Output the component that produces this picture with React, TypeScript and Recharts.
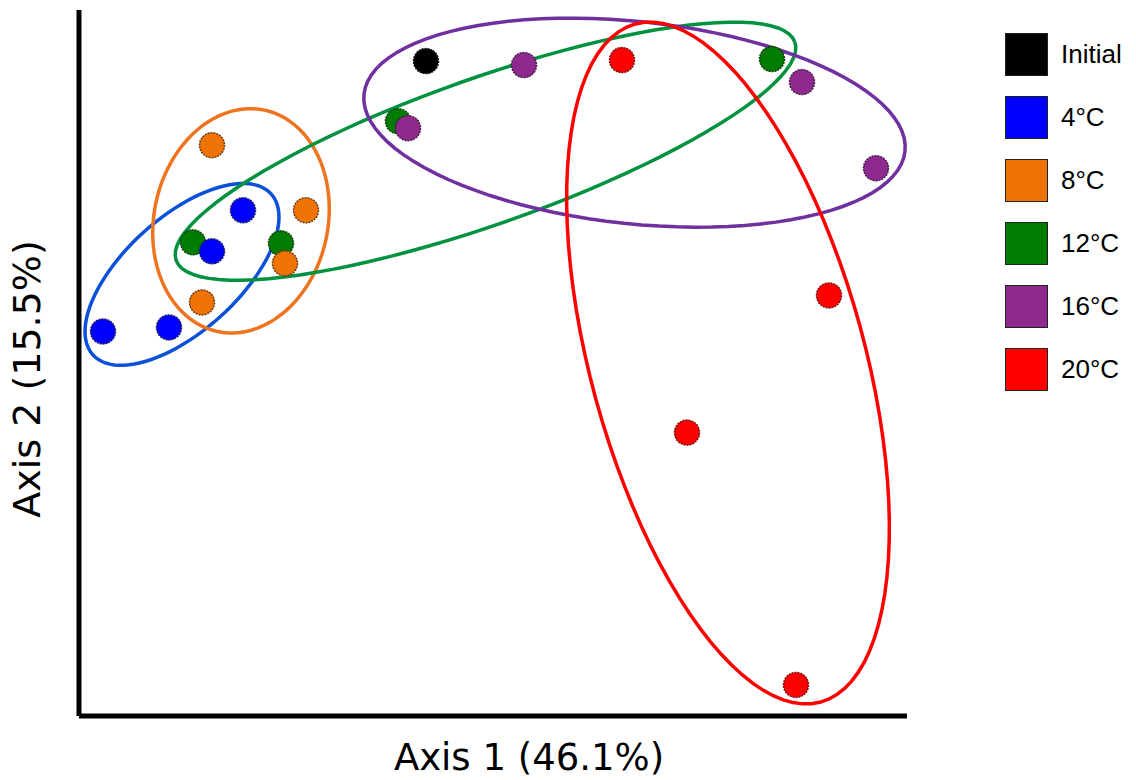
import { ScatterChart, Scatter, XAxis, YAxis, Label } from 'recharts'

// ordination scores, units chosen so one unit ~ one pixel on both axes
const groups = ['Initial', '4°C', '8°C', '12°C', '16°C', '20°C']
const fillColors = ['#000000', '#0000ff', '#f07306', '#007c00', '#8e2a8e', '#ff0000']
const edgeColors = ['#111111', '#1a1a60', '#6a3a10', '#0f3f0f', '#4a1a4a', '#7a1010']
const ringColors = ['#000000', '#0a50d8', '#ee7420', '#00923f', '#7030a0', '#ff0000']

const initialX = [347]
const initialY = [654]
const c4X = [164, 133, 24, 90]
const c4Y = [505, 464, 384, 388]
const c8X = [133, 227, 206, 123]
const c8Y = [570, 505, 452, 413]
const c12X = [114, 202, 319, 693]
const c12Y = [473, 472, 594, 656]
const c16X = [445, 329, 723, 797]
const c16Y = [650, 587, 633, 547]
const c20X = [543, 750, 608, 717]
const c20Y = [655, 420, 283, 31]

// group ellipses (4, 8, 12, 16, 20 °C): centre, semi-axes, tilt in degrees
const ellipseGroups = ['4°C', '8°C', '12°C', '16°C', '20°C']
const ellipseCx = [103, 162, 406.5, 555.5, 649]
const ellipseCy = [441, 494.5, 564, 592.5, 352.5]
const ellipseA = [120, 113, 328, 272, 351]
const ellipseB = [57, 87, 73, 101, 137]
const ellipseTilt = [42, 78, 19.4, -6, 105.3]

const xDomain = [0, 828]
const yDomain = [0, 705]

const zip = (xs: number[], ys: number[]) => xs.map((x, i) => ({ x, y: ys[i] }))

const pointSets = [
  zip(initialX, initialY),
  zip(c4X, c4Y),
  zip(c8X, c8Y),
  zip(c12X, c12Y),
  zip(c16X, c16Y),
  zip(c20X, c20Y),
]

function ellipseOutline(i: number) {
  const th = (ellipseTilt[i] * Math.PI) / 180
  const pts = []
  for (let k = 0; k <= 96; k++) {
    const t = (k / 96) * Math.PI * 2
    const u = ellipseA[i] * Math.cos(t)
    const v = ellipseB[i] * Math.sin(t)
    pts.push({
      x: ellipseCx[i] + u * Math.cos(th) - v * Math.sin(th),
      y: ellipseCy[i] + u * Math.sin(th) + v * Math.cos(th),
    })
  }
  return pts
}

// green drawn first so blue/orange/purple dots sit on top of it
const drawOrder = [0, 3, 1, 2, 4, 5]

const Nothing = () => <g />

export default function App() {
  return (
    <div style={{ position: 'absolute', left: 0, top: 0, width: 1136, height: 780, background: '#fff' }}>
      <ScatterChart width={1136} height={780} margin={{ top: 10, right: 229, bottom: 0, left: 0 }}>
        <XAxis
          type="number"
          dataKey="x"
          domain={xDomain}
          allowDataOverflow
          height={64}
          tick={false}
          tickLine={false}
          axisLine={{ stroke: '#000', strokeWidth: 5 }}
        >
          <Label
            value="Axis 1 (46.1%)"
            position="insideBottom"
            offset={10}
            dx={36}
            fontFamily="DejaVu Sans"
            fontSize={37}
            fill="#000"
          />
        </XAxis>
        <YAxis
          type="number"
          dataKey="y"
          domain={yDomain}
          allowDataOverflow
          width={79}
          tick={false}
          tickLine={false}
          axisLine={{ stroke: '#000', strokeWidth: 5 }}
        >
          <Label
            value="Axis 2 (15.5%)"
            angle={-90}
            position="insideLeft"
            offset={27}
            dy={16}
            textAnchor="middle"
            fontFamily="DejaVu Sans"
            fontSize={38}
            fill="#000"
          />
        </YAxis>
        {ellipseGroups.map((g, i) => (
          <Scatter
            key={'ring-' + g}
            name={g + ' ellipse'}
            data={ellipseOutline(i)}
            line={{ stroke: ringColors[i + 1], strokeWidth: 3.5 }}
            lineJointType="linear"
            shape={Nothing}
            fill="none"
            isAnimationActive={false}
          />
        ))}
        {drawOrder.map((gi) => (
          <Scatter
            key={groups[gi]}
            name={groups[gi]}
            data={pointSets[gi]}
            fill={fillColors[gi]}
            isAnimationActive={false}
            shape={(p: any) => (
              <circle
                cx={p.cx}
                cy={p.cy}
                r={12.5}
                fill={fillColors[gi]}
                stroke={edgeColors[gi]}
                strokeWidth={1.5}
                strokeDasharray="2 1"
              />
            )}
          />
        ))}
      </ScatterChart>
      <div style={{ position: 'absolute', left: 1005, top: 23, fontFamily: 'Liberation Sans, Arial, sans-serif' }}>
        {groups.map((g, i) => (
          <div key={g} style={{ display: 'flex', alignItems: 'center', height: 63 }}>
            <div
              style={{
                width: 43,
                height: 43,
                background: fillColors[i],
                border: '1.5px solid #222',
                boxSizing: 'border-box',
              }}
            />
            <span style={{ marginLeft: 13, fontSize: 26, color: '#000' }}>{g}</span>
          </div>
        ))}
      </div>
    </div>
  )
}
